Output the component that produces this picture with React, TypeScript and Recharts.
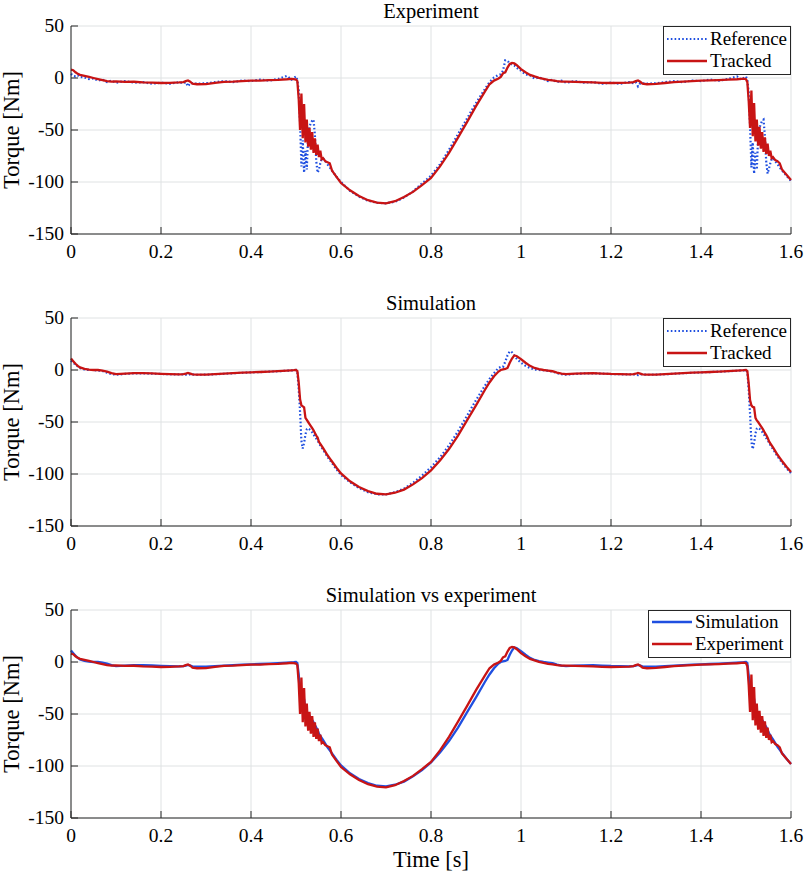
import React from 'react';
import { LineChart, Line, XAxis, YAxis, CartesianGrid, Legend } from 'recharts';

const TIME = [
  0, 0.005, 0.01, 0.015, 0.02, 0.03, 0.04, 0.05, 0.06, 0.07, 0.08, 0.09, 0.1, 0.12, 0.14, 0.16, 0.18, 0.2, 0.22, 0.24,
  0.25, 0.255, 0.26, 0.265, 0.27, 0.28, 0.3, 0.32, 0.34, 0.36, 0.38, 0.4, 0.42, 0.44, 0.46, 0.48, 0.49, 0.495, 0.5,
  0.503, 0.506, 0.509, 0.512, 0.515, 0.518, 0.521, 0.524, 0.527, 0.53, 0.533, 0.536, 0.539, 0.542, 0.545, 0.548, 0.551,
  0.554, 0.557, 0.56, 0.565, 0.57, 0.575, 0.58, 0.59, 0.6,
  0.62, 0.64, 0.66, 0.68, 0.7, 0.72, 0.74, 0.76, 0.78, 0.8, 0.82, 0.84, 0.86, 0.88, 0.9, 0.92, 0.93, 0.94,
  0.95, 0.955, 0.96, 0.965, 0.97, 0.975, 0.98, 0.985, 0.99, 1, 1.01, 1.02, 1.03, 1.04,
  1.05, 1.06, 1.07, 1.08, 1.09, 1.1, 1.12, 1.14, 1.16, 1.18, 1.2, 1.22, 1.24, 1.25, 1.255, 1.26, 1.265, 1.27, 1.28,
  1.3, 1.32, 1.34, 1.36, 1.38, 1.4, 1.42, 1.44, 1.46, 1.48, 1.49, 1.495, 1.5,
  1.503, 1.506, 1.509, 1.512, 1.515, 1.518, 1.521, 1.524, 1.527, 1.53, 1.533, 1.536, 1.539, 1.542, 1.545, 1.548, 1.551,
  1.554, 1.557, 1.56, 1.565, 1.57, 1.575, 1.58, 1.59, 1.6,
];

const EXP_REF = [
  4, 2, 1.5, 2.5, 1, 0.5, -1, -0.5, -2.5, -1.5, -4, -2.5, -4.5, -3, -4.5, -4, -5.5, -4.5, -5.5, -4,
  -5, -4, -8, -5, -5, -5.5, -5, -4, -3, -4, -2.5, -3, -1.5, -2.5, -1, 2, -1.5, 0, 1.5,
  -2, -12, -42, -85, -60, -91, -70, -88, -55, -47, -43, -41, -40, -55, -80, -91, -88,
  -82, -78, -77, -80, -83, -86, -89, -95, -100,
  -108.5, -114, -118, -120, -120.5, -119, -115, -109, -101.5, -94, -83, -69, -54, -39, -24, -10.5, -4, 0.5,
  3, 3.5, 7, 17, 16.5, 14, 13, 12, 10, 7, 3.5, 2.5, -0.5, 0.5,
  -1, -3, -1.5, -4, -2.5, -4.5, -3, -4.5, -4, -5.5, -4.5, -5.5, -4, -5, -4, -8, -5, -5, -5.5,
  -5, -4, -3, -4, -2.5, -3, -1.5, -2.5, -1, 1.5, -1.5, 0, 1.5,
  -2, -14, -45, -86, -62, -92, -72, -88, -56, -48, -44, -41, -40, -56, -81, -92, -87,
  -82, -78, -77, -80, -83, -86, -89, -94, -99,
];

const EXP_TRK = [
  8, 7.5, 5.5, 4, 3, 2, 1, 0, -1, -2, -3, -3.5, -3.2, -3.8, -3.6, -4.2, -4.5, -4.8, -4.6, -4.3,
  -4, -3, -2.3, -3.5, -5.5, -6, -5.8, -4.6, -3.8, -3.5, -3, -2.6, -2.5, -2, -1.8, -1.2, -0.8, -1, -1.5,
  -3, -20, -50, -15, -58, -25, -62, -40, -66, -48, -69, -52, -72, -58, -74, -64, -76,
  -70, -78, -77, -80, -81, -82, -89, -95, -101,
  -108, -113.5, -117.5, -119.8, -120.5, -118.5, -114.5, -109.5, -103, -96, -85, -72, -57.4, -42.4, -27, -12.8, -6, -2.5,
  -0.5, 1, 4.5, 5.5, 10, 13.5, 14.5, 14, 12.5, 8.5, 5.5, 3, 1.5, 0.2,
  -0.8, -1.8, -2.2, -3, -3.4, -3.5, -3.7, -4, -4.3, -4.6, -4.8, -4.7, -4.4, -4, -3, -2.4, -3.6, -5.4, -6,
  -5.7, -4.8, -4, -3.4, -3, -2.6, -2.3, -2, -1.6, -1.2, -0.8, -0.6, -1.2,
  -4, -22, -48, -12, -56, -24, -61, -40, -65, -47, -68, -52, -71, -57, -73, -63, -75,
  -70, -77, -76, -79, -80, -82, -88, -93, -98,
];

const SIM_REF = [
  9, 7, 5, 3.5, 2, 0.5, 0, 0, -0.5, -1, -2.5, -4, -4.5, -3.8, -3.2, -3.2, -3.5, -3.8, -4.1, -4.3,
  -4.2, -4.5, -5, -4, -4.3, -4.6, -4.5, -4.1, -3.6, -3.1, -2.7, -2.3, -2, -1.6, -1.2, -0.7, -0.4, -0.3, 0,
  -2, -18, -40, -68, -75.5, -70, -62, -57, -56, -57, -58.5, -60, -62, -64, -66, -68, -70,
  -72.5, -74.5, -76.5, -80, -83.5, -86.5, -89.5, -95.5, -101,
  -108, -113.5, -117.5, -119.5, -119.5, -117.5, -114, -108.5, -101.5, -93.5, -84, -72.5, -59, -44, -29, -15, -8.5, -3,
  2, 3, 3, 8, 14, 18, 17, 14, 11, 7, 4, 2, 0.5, 0,
  -0.2, -0.8, -1.5, -3, -4, -4.5, -3.8, -3.3, -3.2, -3.5, -3.9, -4.1, -4.3, -4.2, -4.6, -5, -4, -4.3, -4.6,
  -4.5, -4.1, -3.6, -3.1, -2.7, -2.3, -2, -1.6, -1.2, -0.7, -0.4, -0.3, 0,
  -2, -19, -42, -69, -76, -70, -61, -56.5, -55.5, -56.5, -58, -59.5, -61.5, -63.5, -65.5, -67.5, -69.5,
  -72, -74, -76, -79.5, -83, -86, -89, -94.5, -99,
];

const SIM_TRK = [
  11, 8.5, 6, 4, 2.5, 1, 0.3, 0, 0, -0.5, -1.5, -3, -4, -3.5, -3, -3, -3.3, -3.7, -4, -4.2,
  -4, -3.5, -2.8, -3.5, -4.2, -4.5, -4.4, -4, -3.5, -3, -2.6, -2.2, -1.9, -1.5, -1.1, -0.6, -0.3, -0.2, 0,
  -1, -12, -28, -34, -35, -36, -46, -48, -50, -52, -54, -56, -58, -60.5, -63, -65, -69,
  -71, -73, -75, -78.5, -82, -85, -88, -94, -99.5,
  -107, -112.5, -116.5, -119, -119.5, -118, -115, -110, -104, -96.5, -87, -76, -63, -48.5, -34, -19, -12, -6,
  -1.5, 0, 0.5, 1, 2, 7, 11, 14, 13.5, 10.5, 7, 4, 2, 0.8,
  0, -0.5, -1.2, -2.5, -3.5, -4, -3.5, -3.2, -3, -3.4, -3.8, -4, -4.2, -4, -3.6, -2.9, -3.5, -4.2, -4.5,
  -4.4, -4, -3.5, -3, -2.6, -2.2, -1.9, -1.5, -1.1, -0.6, -0.3, -0.2, 0,
  -1, -13, -29, -34, -35.5, -36, -46, -48.5, -50, -52, -54, -56, -58, -60.5, -62.5, -65, -68.5,
  -70.5, -72.5, -74.5, -78, -81.5, -84.5, -87.5, -93, -98,
];

const X_TICKS = [0, 0.2, 0.4, 0.6, 0.8, 1, 1.2, 1.4, 1.6];
const Y_TICKS = [-150, -100, -50, 0, 50];
const TITLES = ['Experiment', 'Simulation', 'Simulation vs experiment'];
const X_LABEL = 'Time [s]';
const Y_LABEL = 'Torque [Nm]';

const FONT = '"Liberation Serif", "DejaVu Serif", serif';
const AX = '#262626';
const GRID = '#dfe2e3';
const BLUE = '#1f4fe0';
const RED = '#c81414';

const PLOT_LEFT = 71;
const PLOT_W = 720;
const PLOT_H = 208;

type Series = { key: string; name: string; values: number[]; color: string; width: number; dash?: string };

const BottomTick = (p: any) => (
  <g>
    <line x1={p.x} x2={p.x} y1={p.y} y2={p.y - 7} stroke={AX} strokeWidth={1} />
    <text x={p.x} y={p.y + 24} textAnchor="middle" fontFamily={FONT} fontSize={19.5} fill="#000">
      {String(p.payload.value)}
    </text>
  </g>
);
const TopTick = (p: any) => <line x1={p.x} x2={p.x} y1={p.y} y2={p.y + 7} stroke={AX} strokeWidth={1} />;
const LeftTick = (p: any) => (
  <g>
    <line x1={p.x} x2={p.x + 7} y1={p.y} y2={p.y} stroke={AX} strokeWidth={1} />
    <text x={p.x - 7} y={p.y + 6} textAnchor="end" fontFamily={FONT} fontSize={19.5} fill="#000">
      {String(p.payload.value)}
    </text>
  </g>
);
const RightTick = (p: any) => <line x1={p.x} x2={p.x - 7} y1={p.y} y2={p.y} stroke={AX} strokeWidth={1} />;

const LegendBox = ({ items, w, h, rows }: { items: Series[]; w: number; h: number; rows: number[] }) => (
  <svg width={w} height={h} style={{ display: 'block' }}>
    <rect x={0.5} y={0.5} width={w - 1} height={h - 1} fill="#fff" stroke={AX} strokeWidth={1} />
    {items.map((s, i) => (
      <g key={s.key}>
        <line x1={4} x2={44} y1={rows[i]} y2={rows[i]} stroke={s.color} strokeWidth={s.width} strokeDasharray={s.dash} />
        <text x={47} y={rows[i] + 6} fontFamily={FONT} fontSize={19} fill="#000">
          {s.name}
        </text>
      </g>
    ))}
  </svg>
);

type PanelProps = {
  top: number;
  plotTop: number;
  xAxisHeight: number;
  marginBottom: number;
  title: string;
  series: Series[];
  legend: { left: number; w: number; h: number; rows: number[] };
  showXLabel?: boolean;
};

function Panel({ top, plotTop, xAxisHeight, marginBottom, title, series, legend, showXLabel }: PanelProps) {
  const height = plotTop + PLOT_H + xAxisHeight + marginBottom;
  const data = TIME.map((t, i) => {
    const row: Record<string, number> = { t };
    series.forEach((s) => {
      row[s.key] = s.values[i];
    });
    return row;
  });
  const cx = PLOT_LEFT + PLOT_W / 2;
  const bottomLabel = () => (
    <g>
      <text x={cx} y={plotTop - 8.5} textAnchor="middle" fontFamily={FONT} fontSize={20.5} fill="#000">
        {title}
      </text>
      {showXLabel ? (
        <text x={cx} y={plotTop + PLOT_H + 49} textAnchor="middle" fontFamily={FONT} fontSize={22.5} fill="#000">
          {X_LABEL}
        </text>
      ) : null}
    </g>
  );
  return (
    <div style={{ position: 'absolute', left: 0, top, width: 804, height }}>
      <LineChart width={804} height={height} data={data} margin={{ top: plotTop, right: 804 - PLOT_LEFT - PLOT_W, bottom: marginBottom, left: 0 }}>
        <CartesianGrid xAxisId="b" yAxisId="l" stroke={GRID} strokeWidth={1} />
        <XAxis
          xAxisId="b"
          dataKey="t"
          type="number"
          domain={[0, 1.6]}
          ticks={X_TICKS}
          interval={0}
          height={xAxisHeight}
          tickSize={0}
          tickMargin={0}
          tickLine={false}
          axisLine={{ stroke: AX, strokeWidth: 1 }}
          tick={BottomTick}
          label={bottomLabel}
        />
        <XAxis
          xAxisId="t"
          orientation="top"
          dataKey="t"
          type="number"
          domain={[0, 1.6]}
          ticks={X_TICKS}
          interval={0}
          height={0}
          tickSize={0}
          tickMargin={0}
          tickLine={false}
          axisLine={{ stroke: AX, strokeWidth: 1 }}
          tick={TopTick}
        />
        <YAxis
          yAxisId="l"
          type="number"
          domain={[-150, 50]}
          ticks={Y_TICKS}
          interval={0}
          width={PLOT_LEFT}
          tickSize={0}
          tickMargin={0}
          tickLine={false}
          axisLine={{ stroke: AX, strokeWidth: 1 }}
          tick={LeftTick}
          label={() => {
            const x = 19;
            const y = plotTop + PLOT_H / 2;
            return (
              <text x={x} y={y} transform={`rotate(-90 ${x} ${y})`} textAnchor="middle" fontFamily={FONT} fontSize={22.5} fill="#000">
                {Y_LABEL}
              </text>
            );
          }}
        />
        <YAxis
          yAxisId="r"
          orientation="right"
          type="number"
          domain={[-150, 50]}
          ticks={Y_TICKS}
          interval={0}
          width={0}
          tickSize={0}
          tickMargin={0}
          tickLine={false}
          axisLine={{ stroke: AX, strokeWidth: 1 }}
          tick={RightTick}
        />
        {series.map((s) => (
          <Line
            key={s.key}
            xAxisId="b"
            yAxisId="l"
            type="linear"
            dataKey={s.key}
            name={s.name}
            stroke={s.color}
            strokeWidth={s.width}
            strokeDasharray={s.dash}
            dot={false}
            activeDot={false}
            isAnimationActive={false}
          />
        ))}
        <Legend
          layout="vertical"
          align="center"
          verticalAlign="middle"
          wrapperStyle={{ left: legend.left, top: plotTop, width: legend.w, height: legend.h, margin: 0, padding: 0 }}
          content={() => <LegendBox items={series} w={legend.w} h={legend.h} rows={legend.rows} />}
        />
      </LineChart>
    </div>
  );
}

export default function App() {
  const s1: Series[] = [
    { key: 'ref', name: 'Reference', values: EXP_REF, color: BLUE, width: 2.2, dash: '1.6 2.2' },
    { key: 'trk', name: 'Tracked', values: EXP_TRK, color: RED, width: 2.3 },
  ];
  const s2: Series[] = [
    { key: 'ref', name: 'Reference', values: SIM_REF, color: BLUE, width: 2.2, dash: '1.6 2.2' },
    { key: 'trk', name: 'Tracked', values: SIM_TRK, color: RED, width: 2.3 },
  ];
  const s3: Series[] = [
    { key: 'sim', name: 'Simulation', values: SIM_TRK, color: BLUE, width: 2.3 },
    { key: 'exp', name: 'Experiment', values: EXP_TRK, color: RED, width: 2.3 },
  ];
  const leg12 = { left: 663, w: 128, h: 49, rows: [13, 35] };
  const leg3 = { left: 648, w: 143, h: 48, rows: [12, 34] };
  return (
    <div style={{ position: 'absolute', left: 0, top: 0, width: 804, height: 873, background: '#fff' }}>
      <Panel top={0} plotTop={26} xAxisHeight={40} marginBottom={18} title={TITLES[0]} series={s1} legend={leg12} />
      <Panel top={282} plotTop={36} xAxisHeight={40} marginBottom={18} title={TITLES[1]} series={s2} legend={leg12} />
      <Panel top={574} plotTop={36} xAxisHeight={55} marginBottom={0} title={TITLES[2]} series={s3} legend={leg3} showXLabel />
    </div>
  );
}
